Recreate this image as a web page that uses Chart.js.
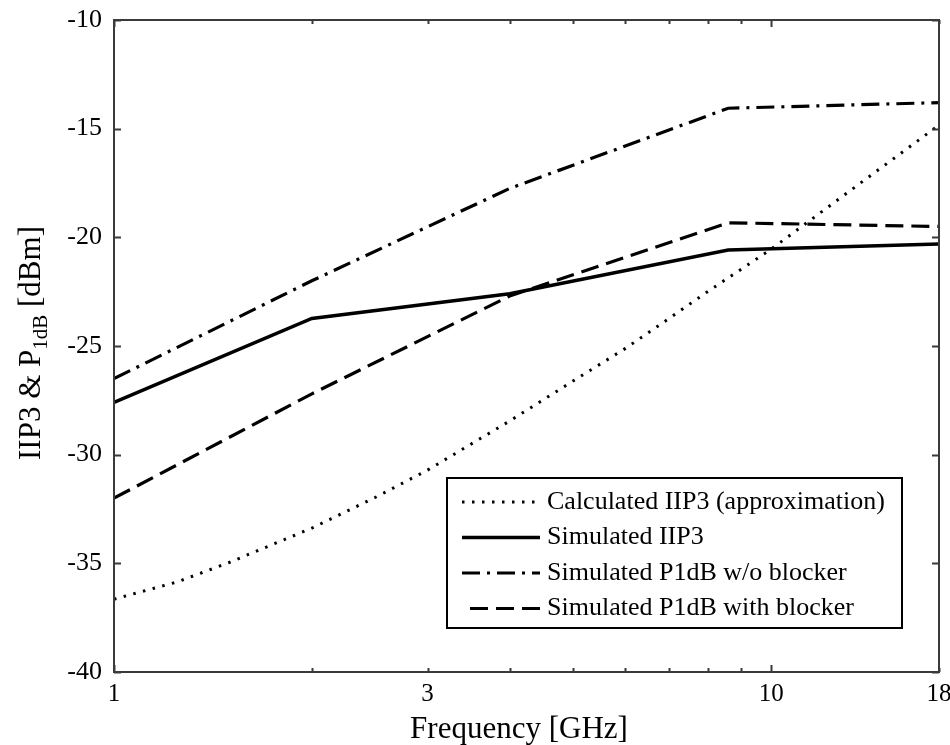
<!DOCTYPE html>
<html>
<head>
<meta charset="utf-8">
<script src="https://cdn.jsdelivr.net/npm/chart.js@4/dist/chart.umd.min.js"></script>
<style>
  body { margin: 0; background: #fff; }
  canvas { display: block; }
</style>
</head>
<body>
<canvas id="chart" width="950" height="745"></canvas>
<script>
// Calculated IIP3 curve (approximation)
const freqCalc = [1, 1.25, 1.5, 2, 2.5, 3, 4, 5, 6, 7, 8, 9, 10, 12, 14, 16, 18];
const iip3Calc = [-36.65, -35.85, -34.95, -33.38, -31.96, -30.71, -28.45, -26.6, -25.11,
                  -23.72, -22.5, -21.47, -20.54, -18.77, -17.27, -15.98, -14.83];

// Simulated points
const freqSim = [1, 2, 4, 8.6, 18];
const iip3Sim = [-27.6, -23.73, -22.6, -20.58, -20.31];
const p1dbNoBlocker = [-26.5, -22.0, -17.75, -14.06, -13.8];
const p1dbBlocker = [-32.0, -27.2, -22.7, -19.33, -19.5];

const seriesNames = [
    'Calculated IIP3 (approximation)',
    'Simulated IIP3',
    'Simulated P1dB w/o blocker',
    'Simulated P1dB with blocker'
];

const xTicks = [1, 2, 3, 4, 5, 6, 7, 8, 9, 10, 18];
const xLabels = [1, 3, 10, 18];
const xMajor = [1, 10];
const yTicks = [-40, -35, -30, -25, -20, -15, -10];

const FONT = "'Liberation Serif', 'DejaVu Serif', serif";

const toPoints = (xs, ys) => xs.map((x, i) => ({ x: x, y: ys[i] }));

const lineStyles = [
    { width: 3, dash: [2.5, 7.5] },
    { width: 3.5, dash: [] },
    { width: 3.2, dash: [18, 7, 3, 7] },
    { width: 3.2, dash: [18, 8] }
];

// box, inward ticks, axis titles and legend
const framePlugin = {
    id: 'frame',
    afterDraw(chart) {
        const ctx = chart.ctx;
        const a = chart.chartArea;
        const xs = chart.scales.x;
        const ys = chart.scales.y;
        ctx.save();
        ctx.strokeStyle = '#3a3a3a';
        ctx.lineWidth = 2;

        // tick marks inside the box
        ctx.beginPath();
        xTicks.forEach(v => {
            const px = Math.round(xs.getPixelForValue(v)) + 0.5;
            const len = xMajor.includes(v) ? 7 : 4;
            ctx.moveTo(px, a.bottom);
            ctx.lineTo(px, a.bottom - len);
            ctx.moveTo(px, a.top);
            ctx.lineTo(px, a.top + len);
        });
        yTicks.forEach(v => {
            const py = Math.round(ys.getPixelForValue(v)) + 0.5;
            ctx.moveTo(a.left, py);
            ctx.lineTo(a.left + 7, py);
            ctx.moveTo(a.right, py);
            ctx.lineTo(a.right - 7, py);
        });
        ctx.stroke();
        ctx.strokeRect(a.left, a.top, a.right - a.left, a.bottom - a.top);

        ctx.fillStyle = '#000';

        // x axis title
        ctx.font = '31px ' + FONT;
        ctx.textAlign = 'center';
        ctx.textBaseline = 'alphabetic';
        ctx.fillText('Frequency [GHz]', 519, 738);

        // y axis title with subscript
        ctx.translate(40, 343);
        ctx.rotate(-Math.PI / 2);
        const parts = [
            { t: 'IIP3 & P', size: 31, dy: 0 },
            { t: '1dB', size: 21, dy: 7 },
            { t: ' [dBm]', size: 31, dy: 0 }
        ];
        let total = 0;
        parts.forEach(p => {
            ctx.font = p.size + 'px ' + FONT;
            p.w = ctx.measureText(p.t).width;
            total += p.w;
        });
        let cx = -total / 2;
        ctx.textAlign = 'left';
        parts.forEach(p => {
            ctx.font = p.size + 'px ' + FONT;
            ctx.fillText(p.t, cx, p.dy);
            cx += p.w;
        });
        ctx.restore();

        // legend
        ctx.save();
        const bx = 447, by = 478, bw = 455, bh = 150;
        ctx.fillStyle = '#fff';
        ctx.fillRect(bx, by, bw, bh);
        ctx.strokeStyle = '#000';
        ctx.lineWidth = 2;
        ctx.strokeRect(bx, by, bw, bh);
        ctx.font = '26px ' + FONT;
        ctx.textBaseline = 'middle';
        ctx.textAlign = 'left';
        ctx.fillStyle = '#000';
        chart.data.datasets.forEach((ds, i) => {
            const yy = by + 24 + i * 35.5;
            const st = lineStyles[i];
            ctx.beginPath();
            ctx.setLineDash(st.dash);
            ctx.lineWidth = st.width;
            ctx.moveTo(i === 3 ? 470 : 462, yy);
            ctx.lineTo(540, yy);
            ctx.stroke();
            ctx.setLineDash([]);
            ctx.fillText(ds.label, 547, yy);
        });
        ctx.restore();
    }
};

const seriesData = [
    toPoints(freqCalc, iip3Calc),
    toPoints(freqSim, iip3Sim),
    toPoints(freqSim, p1dbNoBlocker),
    toPoints(freqSim, p1dbBlocker)
];

new Chart(document.getElementById('chart'), {
    type: 'line',
    data: {
        datasets: seriesData.map((d, i) => ({
            label: seriesNames[i],
            data: d,
            borderColor: '#000',
            borderWidth: lineStyles[i].width,
            borderDash: lineStyles[i].dash,
            pointRadius: 0,
            fill: false,
            tension: 0
        }))
    },
    options: {
        responsive: false,
        animation: false,
        layout: { padding: { left: 0, top: 20, right: 11, bottom: 0 } },
        plugins: {
            legend: { display: false },
            tooltip: { enabled: false }
        },
        scales: {
            x: {
                type: 'logarithmic',
                min: 1,
                max: 18,
                grid: { display: false },
                border: { display: false },
                afterBuildTicks: s => { s.ticks = xTicks.map(v => ({ value: v })); },
                afterFit: s => { s.height = 73; s.paddingLeft = 0; s.paddingRight = 0; },
                ticks: {
                    autoSkip: false,
                    maxRotation: 0,
                    padding: -1,
                    color: '#000',
                    font: { family: FONT, size: 25 },
                    callback: v => xLabels.includes(v) ? String(v) : ''
                }
            },
            y: {
                min: -40,
                max: -10,
                grid: { display: false },
                border: { display: false },
                afterBuildTicks: s => { s.ticks = yTicks.map(v => ({ value: v })); },
                afterFit: s => { s.width = 114; s.paddingTop = 0; s.paddingBottom = 0; },
                ticks: {
                    padding: 4,
                    color: '#000',
                    font: { family: FONT, size: 26 }
                }
            }
        }
    },
    plugins: [framePlugin]
});
</script>
</body>
</html>
